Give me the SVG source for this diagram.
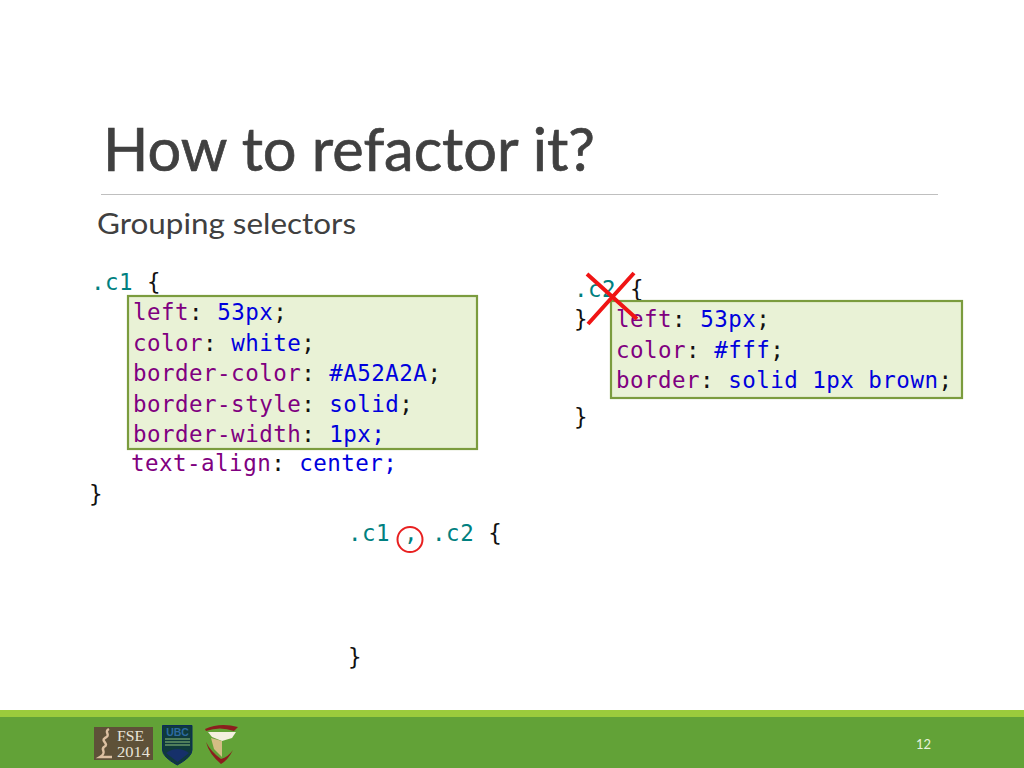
<svg xmlns="http://www.w3.org/2000/svg" width="1024" height="768" viewBox="0 0 1024 768">
<style>
text{white-space:pre}
.code{font-family:"DejaVu Sans Mono","Liberation Mono",monospace;font-size:22.500px;letter-spacing:.47px;fill:#111}
.p{fill:#800080}.v{fill:#0000dd}.s{fill:#008080}.k{fill:#111}
.box{fill:#e9f2d6;stroke:#7b9c3e;stroke-width:2.200}
.x{stroke:#f01414;stroke-width:4;fill:none}
</style>
<rect width="1024" height="768" fill="#fff"/>
<g id="title">
<text x="103" y="171" font-family="Lato,'Open Sans',sans-serif" font-size="60" fill="#404040" stroke="#404040" stroke-width=".7" textLength="492" lengthAdjust="spacingAndGlyphs">How to refactor it?</text>
<line x1="101" y1="194.500" x2="938" y2="194.500" stroke="#bfbfbf" stroke-width="1"/>
<text x="97" y="234" font-family="Lato,'Open Sans',sans-serif" font-size="29" fill="#404040" textLength="259" lengthAdjust="spacingAndGlyphs">Grouping selectors</text>
</g>
<g id="c1-block">
<text class="code s" x="91" y="290">.c1 <tspan class="k">{</tspan></text>
<rect class="box" x="128" y="296" width="349" height="153"/>
<text class="code p" x="133" y="320">left<tspan class="k">:</tspan> <tspan class="v">53px</tspan><tspan class="k">;</tspan></text>
<text class="code p" x="133" y="351">color<tspan class="k">:</tspan> <tspan class="v">white</tspan><tspan class="k">;</tspan></text>
<text class="code p" x="133" y="381">border-color<tspan class="k">:</tspan> <tspan class="v">#A52A2A</tspan><tspan class="k">;</tspan></text>
<text class="code p" x="133" y="412">border-style<tspan class="k">:</tspan> <tspan class="v">solid</tspan><tspan class="k">;</tspan></text>
<text class="code p" x="133" y="442">border-width<tspan class="k">:</tspan> <tspan class="v">1px;</tspan></text>
<text class="code p" x="131" y="471">text-align<tspan class="k">:</tspan> <tspan class="v">center;</tspan></text>
<text class="code" x="89" y="502">}</text>
</g>
<g id="c2-block">
<text class="code s" x="574" y="297">.c2 <tspan class="k">{</tspan></text>
<text class="code" x="574" y="327">}</text>
<rect class="box" x="611" y="301" width="351" height="97"/>
<text class="code p" x="616" y="327">left<tspan class="k">:</tspan> <tspan class="v">53px</tspan><tspan class="k">;</tspan></text>
<text class="code p" x="616" y="358">color<tspan class="k">:</tspan> <tspan class="v">#fff</tspan><tspan class="k">;</tspan></text>
<text class="code p" x="616" y="388">border<tspan class="k">:</tspan> <tspan class="v">solid 1px brown</tspan><tspan class="k">;</tspan></text>
<text class="code" x="574" y="425">}</text>
<path class="x" d="M587 274L637 319M634 273L588 324"/>
</g>
<g id="merged-block">
<text class="code s" x="348" y="541">.c1 , .c2 <tspan class="k">{</tspan></text>
<circle cx="410" cy="539.500" r="12.500" fill="none" stroke="#e82020" stroke-width="2"/>
<text class="code" x="348" y="665">}</text>
</g>
<g id="footer">
<rect y="710" width="1024" height="7" fill="#9bcb3c"/>
<rect y="717" width="1024" height="51" fill="#62a237"/>
<text x="916" y="749" font-family="Lato,sans-serif" font-size="13" fill="#e8f2dc">12</text>
</g>
<g id="logo-fse">
<rect x="94" y="727" width="59" height="33" fill="#5e5138"/>
<path d="M109 729C103 732 112 735 105 738C100 741 110 744 104 747C100 750 108 752 100 757L112 757" fill="none" stroke="#dcc0a0" stroke-width="2.500"/>
<text x="117" y="741" font-family="Liberation Serif,serif" font-size="15" fill="#e8e4d8" textLength="27" lengthAdjust="spacingAndGlyphs">FSE</text>
<text x="117" y="757" font-family="Liberation Serif,serif" font-size="15" fill="#e8e4d8" textLength="33" lengthAdjust="spacingAndGlyphs">2014</text>
</g>
<g id="logo-ubc">
<path d="M162.500 725.500H192V750Q192 757 177.250 765Q162.500 757 162.500 750Z" fill="#0f3a3c" stroke="#0b2a5c" stroke-width="1"/>
<text x="177.500" y="736" text-anchor="middle" font-family="Liberation Sans,sans-serif" font-size="10.500" font-weight="700" fill="#2d6aa0">UBC</text>
<path d="M165 739H190M165 742H190M165 745H190" stroke="#8fc07a" stroke-width="1.200"/>
<path d="M166 753Q177.500 745 189 753L177.500 762Z" fill="#16306a"/>
</g>
<g id="logo-third">
<path d="M205 729Q220 722 238 727L234 731Q220 726 206 731Z" fill="#8b1e1e"/>
<path d="M208 732H236L232 738L222 741L212 737Z" fill="#f4f0e0"/>
<path d="M211 738L222 741L222 757L214 749Z" fill="#d4bd85"/>
<path d="M206 742Q209 754 221 764Q228 760 233 750Q228 757 221 759Q211 752 206 742Z" fill="#8b1e1e"/>
</g>
</svg>
